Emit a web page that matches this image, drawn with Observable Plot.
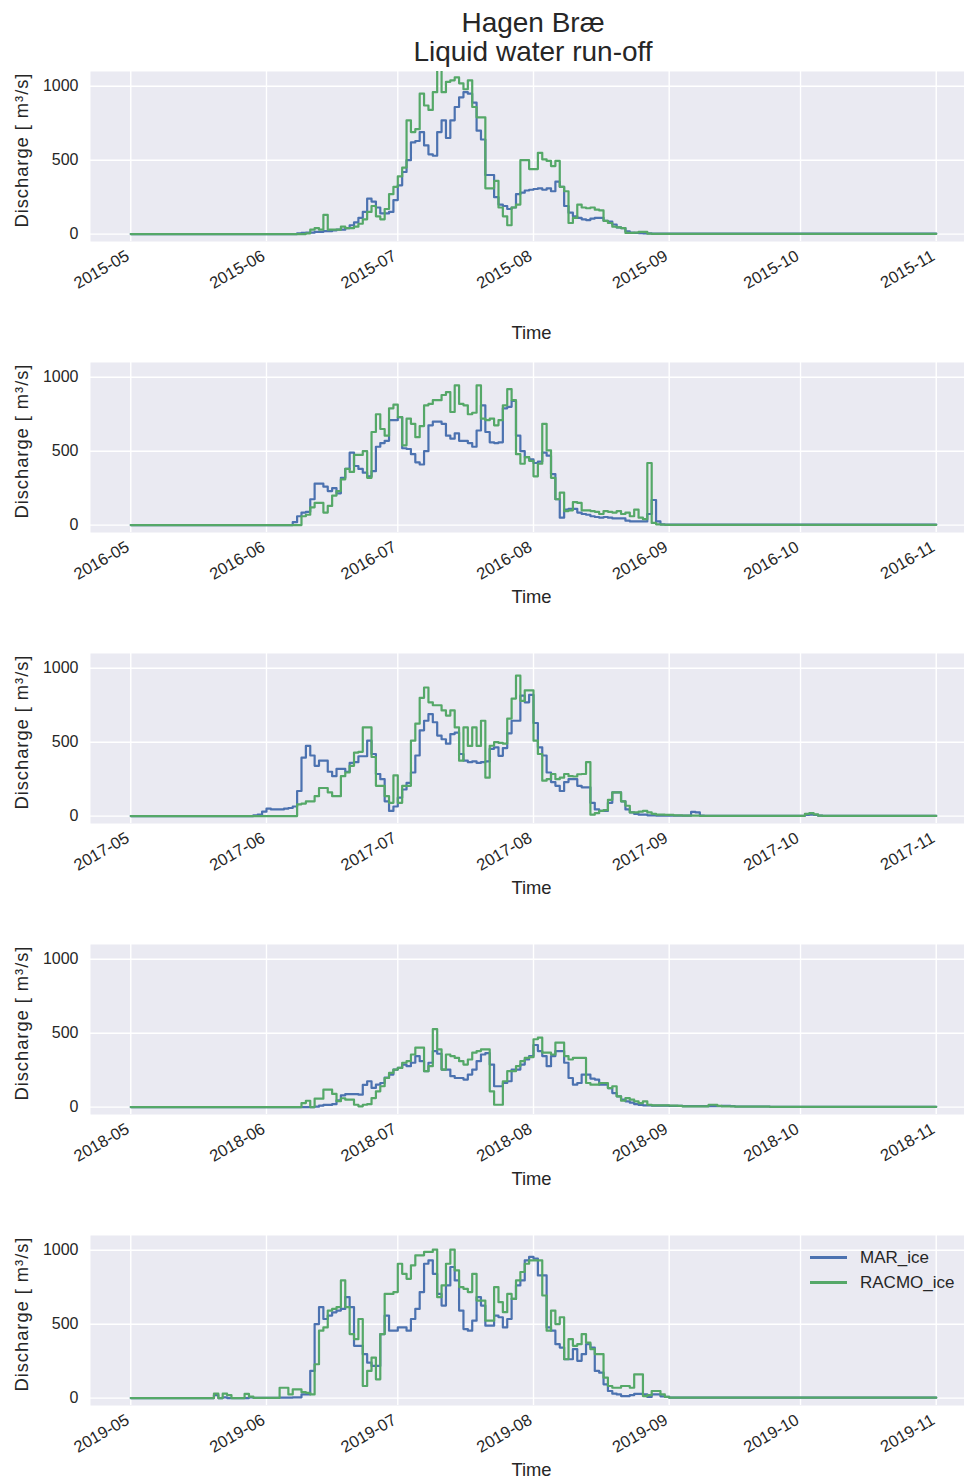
<!DOCTYPE html>
<html>
<head>
<meta charset="utf-8">
<script src="https://cdn.jsdelivr.net/npm/d3@7"></script>
<script src="https://cdn.jsdelivr.net/npm/@observablehq/plot@0.6"></script>
<style>
  html, body { margin: 0; padding: 0; background: #ffffff; overflow: hidden; }
  #chart { position: relative; width: 964px; height: 1480px; overflow: hidden;
           font-family: "Liberation Sans", Arial, sans-serif; color: #262626; }
  #title { position: absolute; left: 0; top: 8px; width: 1066px; text-align: center;
           font-size: 28px; line-height: 29px; }
  .panel { position: absolute; left: 0; }
  #legend { position: absolute; left: 810px; top: 1245px; font-size: 17px; line-height: 25px; }
  #legend .row { display: flex; align-items: center; }
  #legend .swatch { width: 37px; height: 2.5px; margin-right: 13px; }
</style>
</head>
<body>
<div id="chart">
  <div id="title">Hagen Bræ<br>Liquid water run-off</div>
  <div id="legend"></div>
</div>
<script>
// Series names, colours and axis text
const MODELS = ["MAR_ice", "RACMO_ice"];
const COLORS = ["#4C72B0", "#55A868"];
const YEARS = [2015, 2016, 2017, 2018, 2019];
const Y_TICKS = [0, 500, 1000];
const X_LABEL = "Time";
const Y_LABEL = "Discharge [ m³/s]";

// Daily run-off (m³/s); each record starts on the given day, zero before it,
// and its last value is held until 1 November.
const start2015 = "2015-06-07";
const mar2015 = [0,5,8,10,10,15,15,20,20,25,30,30,40,60,80,110,150,240,220,180,140,140,150,230,330,420,500,620,630,690,600,540,530,690,770,650,770,860,925,960,950,890,700,640,400,400,250,200,190,170,180,270,280,295,300,305,310,300,310,290,355,320,190,145,120,110,100,95,105,110,110,90,85,65,45,40,18,10,8,7,5,5,3];
const racmo2015 = [0,0,0,5,30,40,30,130,30,30,30,50,40,40,50,70,100,150,190,120,100,170,270,320,390,450,770,690,710,950,870,840,960,1110,960,1030,1040,1060,1020,980,1040,860,790,790,310,310,360,180,120,60,180,200,500,500,440,440,550,505,495,460,495,320,290,75,110,200,180,175,180,165,160,90,75,50,45,40,8,8,10,15,15,3,2];

const start2016 = "2016-06-06";
const mar2016 = [0,20,60,85,90,175,280,280,260,230,250,215,320,380,490,400,380,355,330,365,530,555,570,710,710,730,520,515,480,425,410,500,675,700,700,685,605,585,620,570,570,555,530,640,810,630,560,555,560,790,800,840,605,500,460,445,420,430,490,470,345,175,50,105,110,110,85,75,70,60,55,50,55,50,45,45,45,30,25,25,25,25,75,170,25,5,3];
const racmo2016 = [0,0,0,60,70,120,150,150,85,130,200,230,310,380,360,475,475,500,320,630,750,650,605,790,815,730,540,720,685,595,670,810,820,845,845,880,900,765,945,820,810,750,760,945,720,710,720,675,710,810,920,845,480,415,460,435,330,415,685,505,320,175,220,95,100,155,150,100,100,95,90,75,95,90,85,95,75,85,60,105,50,40,420,15,5,3,2];

const start2017 = "2017-05-28";
const mar2017 = [0,5,10,30,50,45,45,45,50,55,65,170,395,475,410,340,375,375,300,270,320,320,300,360,365,405,405,510,420,285,250,100,35,65,125,180,225,295,410,580,645,690,635,545,520,490,555,565,420,375,365,370,360,365,370,455,465,408,460,560,645,645,815,770,820,630,465,410,295,230,205,170,230,250,250,205,195,195,90,45,35,35,90,160,160,100,45,25,15,10,10,5,5,3,3,3,3,3,3,3,3,28,25,3,2,2,2,2,2,2,2,2,2,2,2,2,2,2,2,2,2,2,2,2,2,2,2,8,10,8,3,1];
const racmo2017 = [0,0,0,0,0,0,0,0,0,0,0,80,85,100,100,135,190,190,160,135,135,270,295,340,430,435,600,600,400,205,205,135,90,275,90,205,205,510,625,800,870,770,750,750,715,680,715,600,375,600,475,600,475,645,260,476,500,495,490,660,795,950,780,850,850,510,420,240,250,285,250,260,285,270,268,283,285,365,10,20,35,40,110,160,160,100,70,25,25,30,35,25,15,10,10,8,8,5,5,3,3,3,3,2,2,2,2,2,2,2,2,2,2,2,2,2,2,2,2,2,2,2,2,2,2,2,2,15,20,12,3,1];

const start2018 = "2018-06-08";
const mar2018 = [0,0,0,0,3,10,15,15,20,45,80,88,88,88,84,150,175,130,152,163,200,220,254,265,288,277,300,345,311,243,300,379,361,254,254,209,197,197,186,220,254,311,356,365,288,141,141,163,175,254,254,288,322,345,420,379,345,277,345,379,379,300,197,152,163,220,220,193,186,152,152,129,95,73,50,39,30,20,15,12,11,10,10,10,10,8,8,8,6,6,6,6,6,6,6,6,6,8,8,6,4,4,4,4,4,4,4,4,2];
const racmo2018 = [0,27,43,0,57,57,118,118,89,40,60,50,50,16,5,16,20,61,107,141,197,231,254,265,300,311,356,402,402,243,277,527,390,254,356,345,333,311,288,322,368,379,390,390,107,16,16,175,243,243,277,311,333,338,459,470,368,368,356,436,436,345,322,333,333,333,163,152,152,163,163,129,141,73,43,61,50,39,27,39,16,12,12,12,12,10,10,8,5,5,5,5,5,5,16,16,8,5,5,5,3,3,3,3,3,3,3,3,2];

const start2019 = "2019-05-19";
const mar2019 = [0,20,0,5,0,0,0,0,0,5,2,2,2,2,2,2,3,3,3,5,5,25,25,184,501,615,535,558,580,592,603,683,615,354,354,297,240,218,218,433,558,456,456,478,478,456,535,603,717,909,932,841,705,626,762,887,796,592,467,456,524,683,626,490,490,558,547,478,535,671,762,796,932,955,944,830,830,478,456,365,342,263,263,331,252,297,365,342,184,172,93,48,30,25,14,14,20,29,29,25,8,25,25,12,9,3];
const racmo2019 = [0,30,0,30,20,0,0,0,28,10,2,2,2,2,2,2,70,70,25,59,59,40,36,25,229,456,478,592,603,615,796,615,433,399,535,82,184,274,127,433,705,705,717,909,841,807,898,966,966,989,989,1005,683,762,909,1005,864,751,739,717,841,660,660,524,524,751,649,581,705,671,796,853,909,932,932,932,694,456,592,501,547,263,399,354,365,433,376,331,297,297,138,82,70,70,82,82,70,161,161,14,20,48,48,25,8,3];

const records = {
  2015: {start: start2015, MAR_ice: mar2015, RACMO_ice: racmo2015},
  2016: {start: start2016, MAR_ice: mar2016, RACMO_ice: racmo2016},
  2017: {start: start2017, MAR_ice: mar2017, RACMO_ice: racmo2017},
  2018: {start: start2018, MAR_ice: mar2018, RACMO_ice: racmo2018},
  2019: {start: start2019, MAR_ice: mar2019, RACMO_ice: racmo2019}
};

// Step rows for one model in one melt season
function seasonRows(year, model) {
  const rec = records[year];
  const values = rec[model];
  const first = new Date(rec.start + "T00:00:00Z");
  const rows = [{date: new Date(Date.UTC(year, 4, 1)), value: 0, model}];
  values.forEach((v, i) => rows.push({date: d3.utcDay.offset(first, i), value: v, model}));
  rows.push({date: new Date(Date.UTC(year, 10, 1)), value: values[values.length - 1], model});
  return rows;
}

const PANEL_TOP = 61, PANEL_STEP = 291.1;
const SVG_W = 976, SVG_H = 300;
const LABEL_SIZE = 18.4;
const chart = document.getElementById("chart");

YEARS.forEach((year, i) => {
  const from = new Date(Date.UTC(year, 4, 1));
  const to = new Date(Date.UTC(year, 10, 1));
  const pad = 9.2 * 864e5;
  const monthTicks = d3.utcMonth.range(from, d3.utcDay.offset(to, 1));
  const rows = MODELS.flatMap(m => seasonRows(year, m));

  const svg = Plot.plot({
    width: SVG_W,
    height: SVG_H,
    marginLeft: 90,
    marginRight: 0,
    marginTop: 10,
    marginBottom: SVG_H - 180,
    style: {fontFamily: '"Liberation Sans", Arial, sans-serif', fontSize: "16px", color: "#262626", background: "transparent"},
    x: {type: "utc", domain: [new Date(+from - pad), new Date(+to + pad)]},
    y: {domain: [-50, 1100]},
    color: {domain: MODELS, range: COLORS},
    marks: [
      Plot.frame({fill: "#EAEAF2", stroke: null}),
      Plot.gridX(monthTicks, {stroke: "#ffffff", strokeOpacity: 1, strokeWidth: 1.4}),
      Plot.gridY(Y_TICKS, {stroke: "#ffffff", strokeOpacity: 1, strokeWidth: 1.4}),
      Plot.axisY(Y_TICKS, {tickSize: 0, tickPadding: 12, fontSize: 16, label: null,
                           tickFormat: d3.format("d")}),
      Plot.axisX(monthTicks, {tickSize: 0, tickPadding: 13, tickRotate: -30, fontSize: 16.5,
                              dx: -3, tickFormat: d3.utcFormat("%Y-%m"), label: null}),
      Plot.line(rows, {x: "date", y: "value", z: "model", stroke: "model",
                       curve: "step-after", strokeWidth: 2.2, clip: true}),
      Plot.text([X_LABEL], {text: d => d, frameAnchor: "bottom", lineAnchor: "middle",
                            textAnchor: "middle", dx: -2, dy: i === 0 ? 92 : 65,
                            fontSize: LABEL_SIZE, fill: "#262626"}),
      Plot.text([Y_LABEL], {text: d => d, frameAnchor: "left", textAnchor: "middle",
                            lineAnchor: "middle", dx: -68, dy: -6, rotate: -90,
                            fontSize: LABEL_SIZE, fill: "#262626"})
    ]
  });
  // the unit label is set a little wider than the plain text run
  svg.querySelectorAll("text").forEach(t => {
    if (t.textContent === Y_LABEL) {
      t.setAttribute("textLength", 154);
      t.setAttribute("lengthAdjust", "spacing");
    }
  });
  svg.classList.add("panel");
  svg.style.maxWidth = "none";
  svg.style.width = SVG_W + "px";
  svg.style.height = SVG_H + "px";
  svg.style.top = (PANEL_TOP + i * PANEL_STEP) + "px";
  chart.insertBefore(svg, document.getElementById("legend"));
});

// Legend in the last panel
const legend = document.getElementById("legend");
MODELS.forEach((m, k) => {
  const row = document.createElement("div");
  row.className = "row";
  const sw = document.createElement("span");
  sw.className = "swatch";
  sw.style.background = COLORS[k];
  const label = document.createElement("span");
  label.textContent = m;
  row.append(sw, label);
  legend.append(row);
});
</script>
</body>
</html>
